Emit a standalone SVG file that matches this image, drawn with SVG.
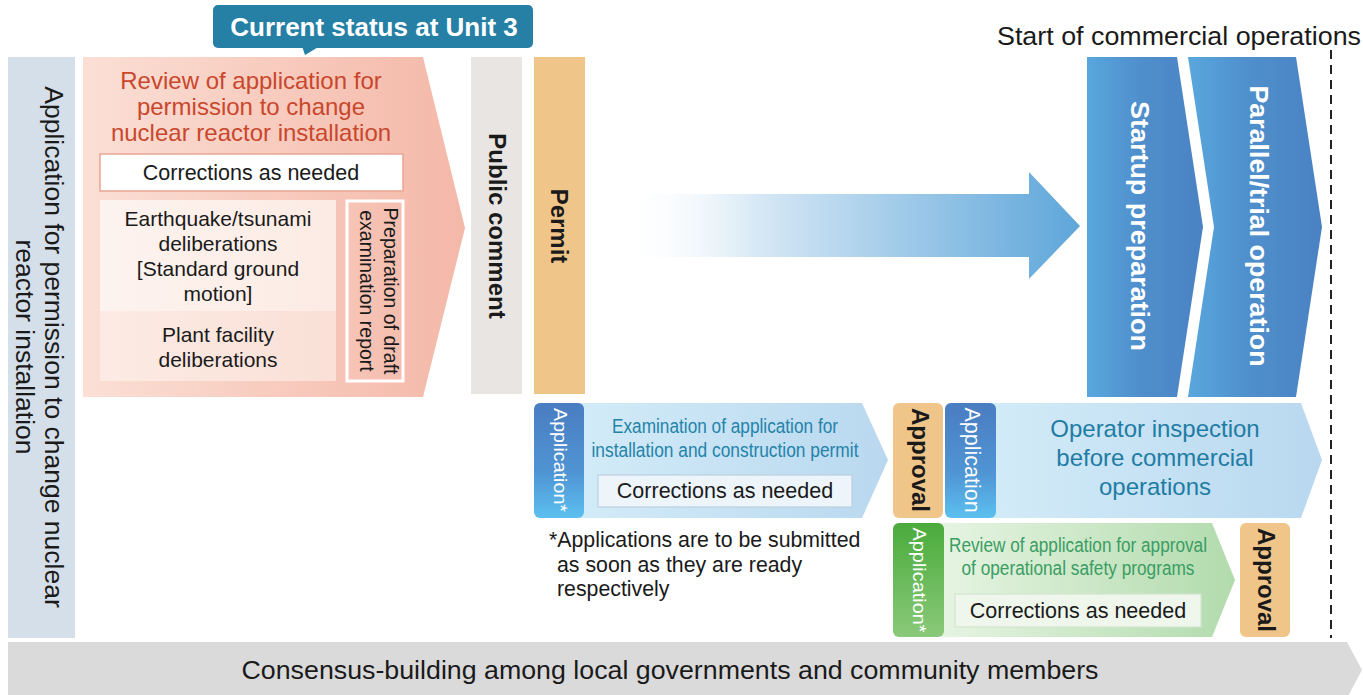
<svg xmlns="http://www.w3.org/2000/svg" width="1363" height="695" viewBox="0 0 1363 695">
<defs>
<linearGradient id="gPink" x1="0" y1="0" x2="1" y2="0"><stop offset="0" stop-color="#fbdfd5"/><stop offset="1" stop-color="#f4b8a8"/></linearGradient>
<linearGradient id="gInner1" x1="0" y1="0" x2="1" y2="0"><stop offset="0" stop-color="#fdf3ef"/><stop offset="1" stop-color="#fcebe4"/></linearGradient>
<linearGradient id="gInner2" x1="0" y1="0" x2="1" y2="0"><stop offset="0" stop-color="#fcebe4"/><stop offset="1" stop-color="#fae0d7"/></linearGradient>
<linearGradient id="gChev" x1="0" y1="0" x2="1" y2="0"><stop offset="0" stop-color="#59a7dd"/><stop offset="0.45" stop-color="#4f8fcc"/><stop offset="1" stop-color="#4a82c3"/></linearGradient>
<linearGradient id="gBig" gradientUnits="userSpaceOnUse" x1="620" y1="0" x2="1080" y2="0"><stop offset="0" stop-color="#ffffff" stop-opacity="0"/><stop offset="0.3" stop-color="#d6e8f5"/><stop offset="1" stop-color="#5ea6da"/></linearGradient>
<linearGradient id="gAppBlue" x1="0" y1="0" x2="0" y2="1"><stop offset="0" stop-color="#4a7dc1"/><stop offset="0.6" stop-color="#4f94d3"/><stop offset="1" stop-color="#5cc0f0"/></linearGradient>
<linearGradient id="gAppGreen" x1="0" y1="0" x2="0" y2="1"><stop offset="0" stop-color="#4aab3b"/><stop offset="1" stop-color="#8ac97a"/></linearGradient>
<linearGradient id="gLightBlue" x1="0" y1="0" x2="1" y2="0"><stop offset="0" stop-color="#d2ebf8"/><stop offset="1" stop-color="#b9d8ef"/></linearGradient>
<linearGradient id="gGreen" x1="0" y1="0" x2="1" y2="0"><stop offset="0" stop-color="#e6f4e2"/><stop offset="1" stop-color="#b2dbad"/></linearGradient>
<style>
text{font-family:"Liberation Sans",Arial,sans-serif;fill:#1a1a1a}
.mid{text-anchor:middle}
.b{font-weight:bold}
.w{fill:#ffffff}
.appr{fill:#f0c58a}
.corr{font-size:21.5px}
</style>
</defs>

<g id="left-bar">
<rect x="8" y="57" width="67" height="581" fill="#d5dfe9"/>
<text class="mid" font-size="26.5" transform="translate(45,347) rotate(90)">Application for permission to change nuclear</text>
<text class="mid" font-size="26.5" transform="translate(16,347) rotate(90)">reactor installation</text>
</g>

<g id="review">
<polygon points="83,57 423,57 465,228 423,397 83,397" fill="url(#gPink)"/>
<text class="mid" font-size="24" style="fill:#c9472c" x="251" y="89">Review of application for</text>
<text class="mid" font-size="24" style="fill:#c9472c" x="251" y="115">permission to change</text>
<text class="mid" font-size="24" style="fill:#c9472c" x="251" y="141">nuclear reactor installation</text>
<rect x="100" y="154" width="303" height="37" fill="#ffffff" stroke="#e9a594" stroke-width="1.5"/>
<text class="mid corr" x="251" y="180">Corrections as needed</text>
<rect x="100" y="200" width="236" height="111" fill="url(#gInner1)"/>
<rect x="100" y="311" width="236" height="70" fill="url(#gInner2)"/>
<text class="mid" font-size="21" x="218" y="226">Earthquake/tsunami</text>
<text class="mid" font-size="21" x="218" y="251">deliberations</text>
<text class="mid" font-size="21" x="218" y="276">[Standard ground</text>
<text class="mid" font-size="21" x="218" y="301">motion]</text>
<text class="mid" font-size="21" x="218" y="342">Plant facility</text>
<text class="mid" font-size="21" x="218" y="367">deliberations</text>
<rect x="347" y="201" width="56" height="180" fill="none" stroke="#ffffff" stroke-width="3"/>
<text class="mid" font-size="19.5" transform="translate(384,291) rotate(90)">Preparation of draft</text>
<text class="mid" font-size="19.5" transform="translate(360,291) rotate(90)">examination report</text>
</g>

<g id="callout">
<rect x="213" y="5" width="320" height="43" rx="5" fill="#2680a6"/>
<polygon points="302,46 320,46 305,55" fill="#2680a6"/>
<text class="mid b w" font-size="26" x="374" y="36">Current status at Unit 3</text>
</g>

<g id="public-comment">
<rect x="471" y="57" width="51" height="337" fill="#e8e5e2"/>
<text class="mid b" font-size="24" transform="translate(489,226) rotate(90)">Public comment</text>
</g>

<g id="permit">
<rect x="534" y="57" width="51" height="337" class="appr"/>
<text class="mid b" font-size="24" transform="translate(551,226) rotate(90)">Permit</text>
</g>

<g id="startup">
<polygon points="1087,57 1177,57 1203,227 1177,397 1087,397" fill="url(#gChev)"/>
<text class="mid b w" font-size="26" textLength="250" lengthAdjust="spacingAndGlyphs" transform="translate(1131,226) rotate(90)">Startup preparation</text>
</g>

<g id="parallel">
<polygon points="1188,57 1296,57 1322,227 1296,397 1188,397 1214,227" fill="url(#gChev)"/>
<text class="mid b w" font-size="26" textLength="281" lengthAdjust="spacingAndGlyphs" transform="translate(1250,226) rotate(90)">Parallel/trial operation</text>
</g>

<g id="start-label">
<text font-size="26" x="997" y="45" textLength="364" lengthAdjust="spacingAndGlyphs">Start of commercial operations</text>
</g>

<g id="exam">
<polygon points="580,403 862,403 888,460 862,518 580,518" fill="url(#gLightBlue)"/>
<text class="mid" font-size="20" style="fill:#2383a9" x="725" y="433" textLength="226" lengthAdjust="spacingAndGlyphs">Examination of application for</text>
<text class="mid" font-size="20" style="fill:#2383a9" x="725" y="457" textLength="267" lengthAdjust="spacingAndGlyphs">installation and construction permit</text>
<rect x="598" y="475" width="254" height="32" fill="#edf5fa" stroke="#b9d1e2" stroke-width="1.2"/>
<text class="mid corr" x="725" y="498">Corrections as needed</text>
</g>

<g id="app1">
<rect x="534" y="403" width="50" height="115" rx="6" fill="url(#gAppBlue)"/>
<text class="mid w" font-size="19" textLength="104" lengthAdjust="spacingAndGlyphs" transform="translate(554,460) rotate(90)">Application*</text>
</g>

<g id="approval1">
<rect x="893" y="403" width="50" height="115" rx="6" class="appr"/>
<text class="mid b" font-size="24" transform="translate(912,460) rotate(90)">Approval</text>
</g>

<g id="operator">
<polygon points="990,403 1301,403 1322,460 1301,518 990,518" fill="url(#gLightBlue)"/>
<text class="mid" font-size="24" style="fill:#1f7ca4" x="1155" y="437">Operator inspection</text>
<text class="mid" font-size="24" style="fill:#1f7ca4" x="1155" y="466">before commercial</text>
<text class="mid" font-size="24" style="fill:#1f7ca4" x="1155" y="495">operations</text>
</g>

<g id="app2">
<rect x="945" y="403" width="51" height="115" rx="6" fill="url(#gAppBlue)"/>
<text class="mid w" font-size="21.5" transform="translate(965,460) rotate(90)">Application</text>
</g>

<g id="safety">
<polygon points="940,523 1212,523 1235,580 1212,637 940,637" fill="url(#gGreen)"/>
<text class="mid" font-size="20" style="fill:#3a9d63" x="1078" y="552" textLength="258" lengthAdjust="spacingAndGlyphs">Review of application for approval</text>
<text class="mid" font-size="20" style="fill:#3a9d63" x="1078" y="575" textLength="233" lengthAdjust="spacingAndGlyphs">of operational safety programs</text>
<rect x="955" y="594" width="246" height="33" fill="#eff6ec" stroke="#d3e5cf" stroke-width="1.2"/>
<text class="mid corr" x="1078" y="618">Corrections as needed</text>
</g>

<g id="app3">
<rect x="893" y="523" width="51" height="114" rx="6" fill="url(#gAppGreen)"/>
<text class="mid w" font-size="19" textLength="105" lengthAdjust="spacingAndGlyphs" transform="translate(913,580) rotate(90)">Application*</text>
</g>

<g id="approval2">
<rect x="1240" y="523" width="50" height="114" rx="6" class="appr"/>
<text class="mid b" font-size="24" transform="translate(1258,580) rotate(90)">Approval</text>
</g>

<g id="footnote">
<text font-size="21.3" x="549" y="547">*Applications are to be submitted</text>
<text font-size="21.3" x="557" y="572">as soon as they are ready</text>
<text font-size="21.3" x="557" y="596">respectively</text>
</g>

<g id="consensus">
<polygon points="8,642 1347,642 1362,670 1347,698 8,698" fill="#dadada"/>
<text class="mid" font-size="26.5" x="670" y="679" textLength="857" lengthAdjust="spacingAndGlyphs">Consensus-building among local governments and community members</text>
</g>

<g id="connectors">
<polygon points="620,194 1029,194 1029,172 1080,226 1029,279 1029,257 620,257" fill="url(#gBig)"/>
<line x1="1331" y1="50" x2="1331" y2="638" stroke="#222222" stroke-width="2" stroke-dasharray="9,6"/>
</g>
</svg>
